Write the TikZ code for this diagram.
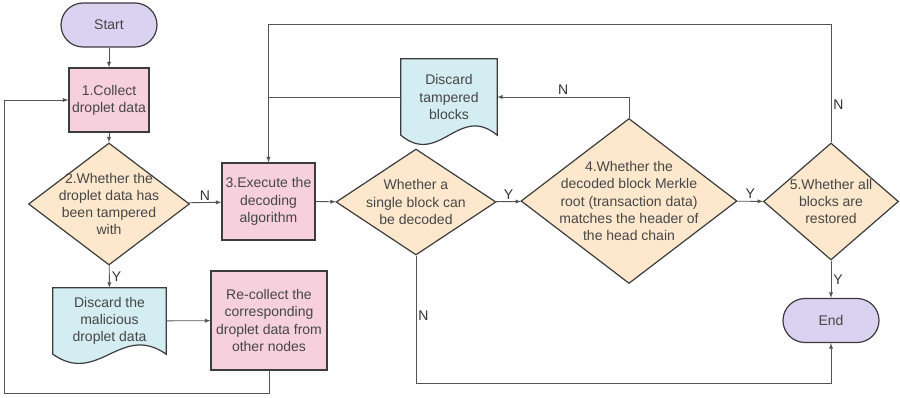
\documentclass[tikz,border=0pt]{standalone}
\usepackage{fontspec}
\setmainfont{Liberation Sans}
\usetikzlibrary{arrows}
\usetikzlibrary{shapes.geometric}
\usetikzlibrary{calc}
\usetikzlibrary{backgrounds}

\definecolor{endsfill}{HTML}{D9D3F1}
\definecolor{workfill}{HTML}{F6D0DD}
\definecolor{askfill}{HTML}{FDE8CE}
\definecolor{paperfill}{HTML}{D3EDF2}
\definecolor{edgegray}{HTML}{3C3C3C}
\definecolor{linegray}{HTML}{555555}
\definecolor{textgray}{HTML}{464646}

\begin{document}
\begin{tikzpicture}[x=1pt, y=-1pt, >=latex,
	every node/.style = {font=\fontsize{14}{17.2}\selectfont, text=textgray, align=center},
	terminal/.style = {draw=edgegray, fill=endsfill, line width=1.2pt, rounded corners=22pt,
		minimum width=96pt, minimum height=44pt},
	process/.style = {draw=edgegray, fill=workfill, line width=1.2pt, inner sep=1pt},
	decision/.style = {diamond, draw=edgegray, fill=askfill, line width=1.2pt, inner sep=-20pt},
	docbox/.style = {inner sep=1pt},
	docline/.style = {draw=edgegray, fill=paperfill, line width=1.2pt},
	link/.style = {draw=linegray, line width=0.9pt},
	yn/.style = {text=black!80, inner sep=2pt}]
\useasboundingbox (0,0) rectangle (900,398);

\node[terminal] (start) at (109,25) {Start};
\node[process, minimum width=80pt, minimum height=64pt] (collect) at (109,100) {1.Collect\\droplet data};
\node[decision, minimum width=161pt, minimum height=122pt] (q2) at (109,204) {2.Whether the\\droplet data has\\been tampered\\with};
\node[docbox, minimum width=113pt, minimum height=66pt] (dmal) at (109.5,321) {Discard the\\malicious\\droplet data};
\node[process, minimum width=116pt, minimum height=99pt] (recol) at (269,320.5) {Re-collect the\\corresponding\\droplet data from\\other nodes};
\node[process, minimum width=93pt, minimum height=77pt] (exec) at (268.5,201.5) {3.Execute the\\decoding\\algorithm};
\node[decision, minimum width=160pt, minimum height=106pt] (q3) at (416,202) {Whether a\\single block can\\be decoded};
\node[docbox, minimum width=96pt, minimum height=76pt] (dtamp) at (449,97) {Discard\\tampered\\blocks};
\node[decision, minimum width=216pt, minimum height=165pt] (q4) at (629,201) {4.Whether the\\decoded block Merkle\\root (transaction data)\\matches the header of\\the head chain};
\node[decision, minimum width=135pt, minimum height=117pt] (q5) at (831,201.5) {5.Whether all\\blocks are\\restored};
\node[terminal] (endn) at (831,320.5) {End};

\begin{pgfonlayer}{background}
\foreach \d in {dmal,dtamp}
	\path[docline] (\d.south west) -- (\d.north west) -- (\d.north east) -- (\d.south east)
		.. controls ($(\d.south west)!0.6!(\d.south east)+(0,-32)$) and ($(\d.south west)!0.4!(\d.south east)+(0,32)$) .. cycle;
\end{pgfonlayer}

\draw[link,->] (start) -- (collect);
\draw[link,->] (collect) -- (q2);
\draw[link,->] (q2) -- node[yn,above] {N} (exec);
\draw[link,->] (q2) -- node[yn,right] {Y} (dmal);
\draw[link,->] (dmal) -- (recol);
\draw[link,->] (recol.south) -- ++(0,23) -| ([xshift=-64pt]collect.west) -- (collect.west);
\draw[link,->] (exec) -- (q3);
\draw[link,->] (q3) -- node[yn,above] {Y} (q4);
\draw[link,->] (q3.south) -- node[yn,right,pos=0.47] {N} ++(0,128) -| (endn.south);
\draw[link,->] (q4.north) |- node[yn,above,pos=0.75] {N} (dtamp.east);
\draw[link] (dtamp.west) -- (dtamp.west -| exec.north);
\draw[link,->] (q4) -- node[yn,above] {Y} (q5);
\draw[link,->] (q5.north) -- node[yn,right,pos=0.32] {N} ++(0,-118) -| (exec.north);
\draw[link,->] (q5) -- node[yn,right] {Y} (endn);
\end{tikzpicture}
\end{document}
